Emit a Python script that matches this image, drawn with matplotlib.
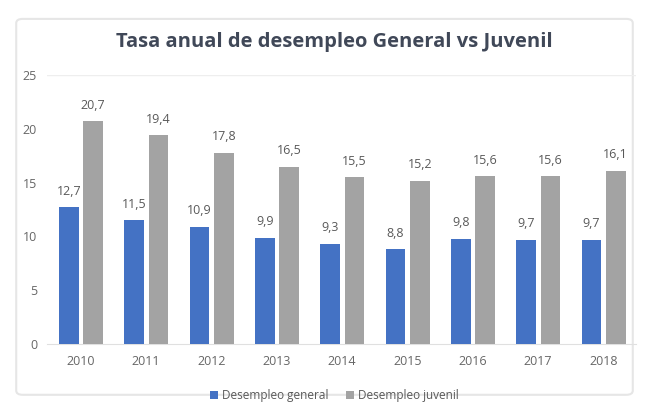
import matplotlib.pyplot as plt
import numpy as np
from matplotlib.patches import FancyBboxPatch

years = ['2010', '2011', '2012', '2013', '2014', '2015', '2016', '2017', '2018']
general = [12.7, 11.5, 10.9, 9.9, 9.3, 8.8, 9.8, 9.7, 9.7]
juvenil = [20.7, 19.4, 17.8, 16.5, 15.5, 15.2, 15.6, 15.6, 16.1]

plt.rcParams['font.family'] = ['Open Sans', 'DejaVu Sans']

fig = plt.figure(figsize=(6.49, 4.2), dpi=100)
fig.patch.set_facecolor('white')

# light frame around the chart
frame = FancyBboxPatch((0.025, 0.06), 0.95, 0.895, boxstyle="round,pad=0,rounding_size=0.01",
                       transform=fig.transFigure, facecolor='white', edgecolor='#e6e6e6',
                       lw=1.5, zorder=-5)
fig.patches.append(frame)

ax = fig.add_axes([0.072, 0.181, 0.908, 0.64])
ax.set_zorder(2)
ax.patch.set_alpha(0)
x = np.arange(len(years))
w = 0.3
b1 = ax.bar(x - 0.18, general, w, color='#4472C4', label='Desempleo general', zorder=3)
b2 = ax.bar(x + 0.19, juvenil, w, color='#A3A3A3', label='Desempleo juvenil', zorder=3)

for rect, v in zip(b1, general):
    ax.text(rect.get_x() + rect.get_width() / 2, v + 0.9, f'{v:.1f}'.replace('.', ','),
            ha='center', va='bottom', fontsize=9, color='#595959')
for rect, v in zip(b2, juvenil):
    ax.text(rect.get_x() + rect.get_width() / 2, v + 0.9, f'{v:.1f}'.replace('.', ','),
            ha='center', va='bottom', fontsize=9, color='#595959')

ax.set_xlim(-0.52, 8.5)
ax.set_ylim(0, 25)
ax.set_yticks([0, 5, 10, 15, 20, 25])
ax.set_xticks(x)
ax.set_xticklabels(years)
ax.tick_params(axis='both', length=0, labelsize=9, colors='#666666')
ax.tick_params(axis='x', pad=8)
ax.tick_params(axis='y', pad=7)
for s in ['top', 'right', 'left']:
    ax.spines[s].set_visible(False)
ax.spines['bottom'].set_color('#e0e0e0')
ax.axhline(25, color='#eeeeee', lw=1, zorder=1)

fig.text(0.515, 0.9, 'Tasa anual de desempleo General vs Juvenil', ha='center', va='center',
         fontsize=14.5, fontweight='bold', color='#404858')

fig.legend(handles=[b1, b2], loc='center', bbox_to_anchor=(0.515, 0.058), ncol=2, frameon=False,
           fontsize=8.5, labelcolor='#595959', handlelength=0.7, handleheight=0.7,
           handletextpad=0.3, columnspacing=1.5)

fig.savefig('out.png', dpi=100)
